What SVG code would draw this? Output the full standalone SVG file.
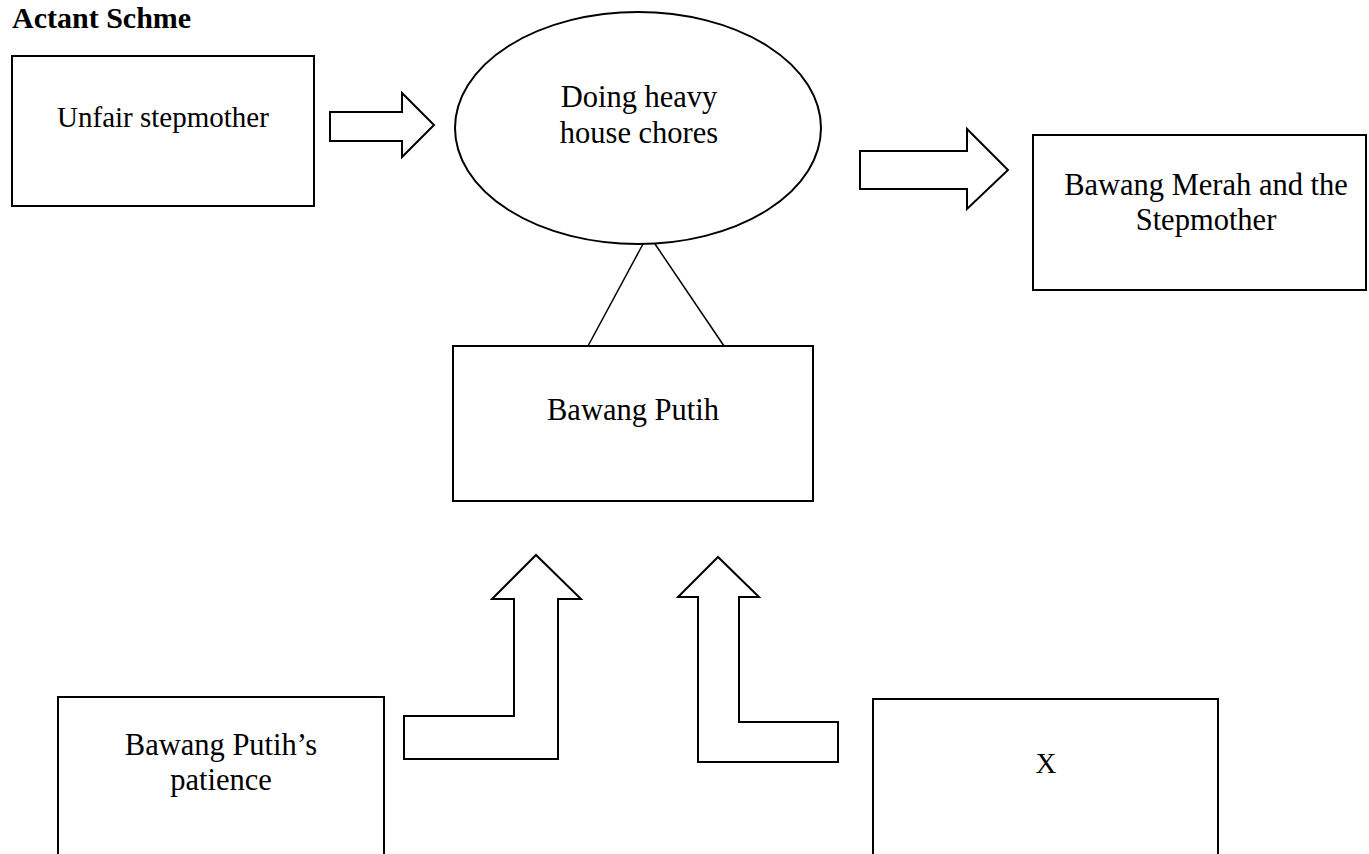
<svg xmlns="http://www.w3.org/2000/svg" width="1369" height="854" viewBox="0 0 1369 854">
<style>
.box{fill:#fff;stroke:#000;stroke-width:2}
.arr{fill:#fff;stroke:#000;stroke-width:2;stroke-linejoin:miter}
.ln{stroke:#000;stroke-width:1.5;fill:none}
.t{font-family:"Liberation Serif",serif;font-size:30.5px;fill:#000;text-anchor:middle}
.tt{font-family:"Liberation Serif",serif;font-size:29px;fill:#000;text-anchor:middle}
.title{font-family:"Liberation Serif",serif;font-size:30px;font-weight:bold;fill:#000}
</style>
<rect width="1369" height="854" fill="#fff"/>
<text class="title" x="12" y="27.5">Actant Schme</text>
<g id="connectors">
<polygon class="arr" points="330,112 402,112 402,93 434,125 402,157 402,141 330,141"/>
<polygon class="arr" points="860,151 967,151 967,129 1008,170 967,209 967,189 860,189"/>
<line class="ln" x1="643" y1="244" x2="588" y2="346"/>
<line class="ln" x1="655" y1="244" x2="724" y2="346"/>
<polygon class="arr" points="404,716 514,716 514,599 492,599 536,555 581,599 558,599 558,759 404,759"/>
<polygon class="arr" points="698,762 698,597 678,597 718,557 759,597 739,597 739,722 838,722 838,762"/>
</g>
<g id="sender">
<rect class="box" x="12" y="56" width="302" height="150"/>
<text class="tt" x="163" y="127">Unfair stepmother</text>
</g>
<g id="object">
<ellipse class="box" cx="638" cy="128" rx="183" ry="116"/>
<text class="t" x="639" y="107">Doing heavy</text>
<text class="t" x="639" y="143">house chores</text>
</g>
<g id="receiver">
<rect class="box" x="1033" y="135" width="333" height="155"/>
<text class="t" x="1206" y="195">Bawang Merah and the</text>
<text class="t" x="1206" y="230">Stepmother</text>
</g>
<g id="subject">
<rect class="box" x="453" y="346" width="360" height="155"/>
<text class="t" x="633" y="420">Bawang Putih</text>
</g>
<g id="helper">
<rect class="box" x="58" y="697" width="326" height="170"/>
<text class="t" x="221" y="755">Bawang Putih’s</text>
<text class="t" x="221" y="790">patience</text>
</g>
<g id="opponent">
<rect class="box" x="873" y="699" width="345" height="170"/>
<text class="tt" x="1046" y="773">X</text>
</g>
</svg>
